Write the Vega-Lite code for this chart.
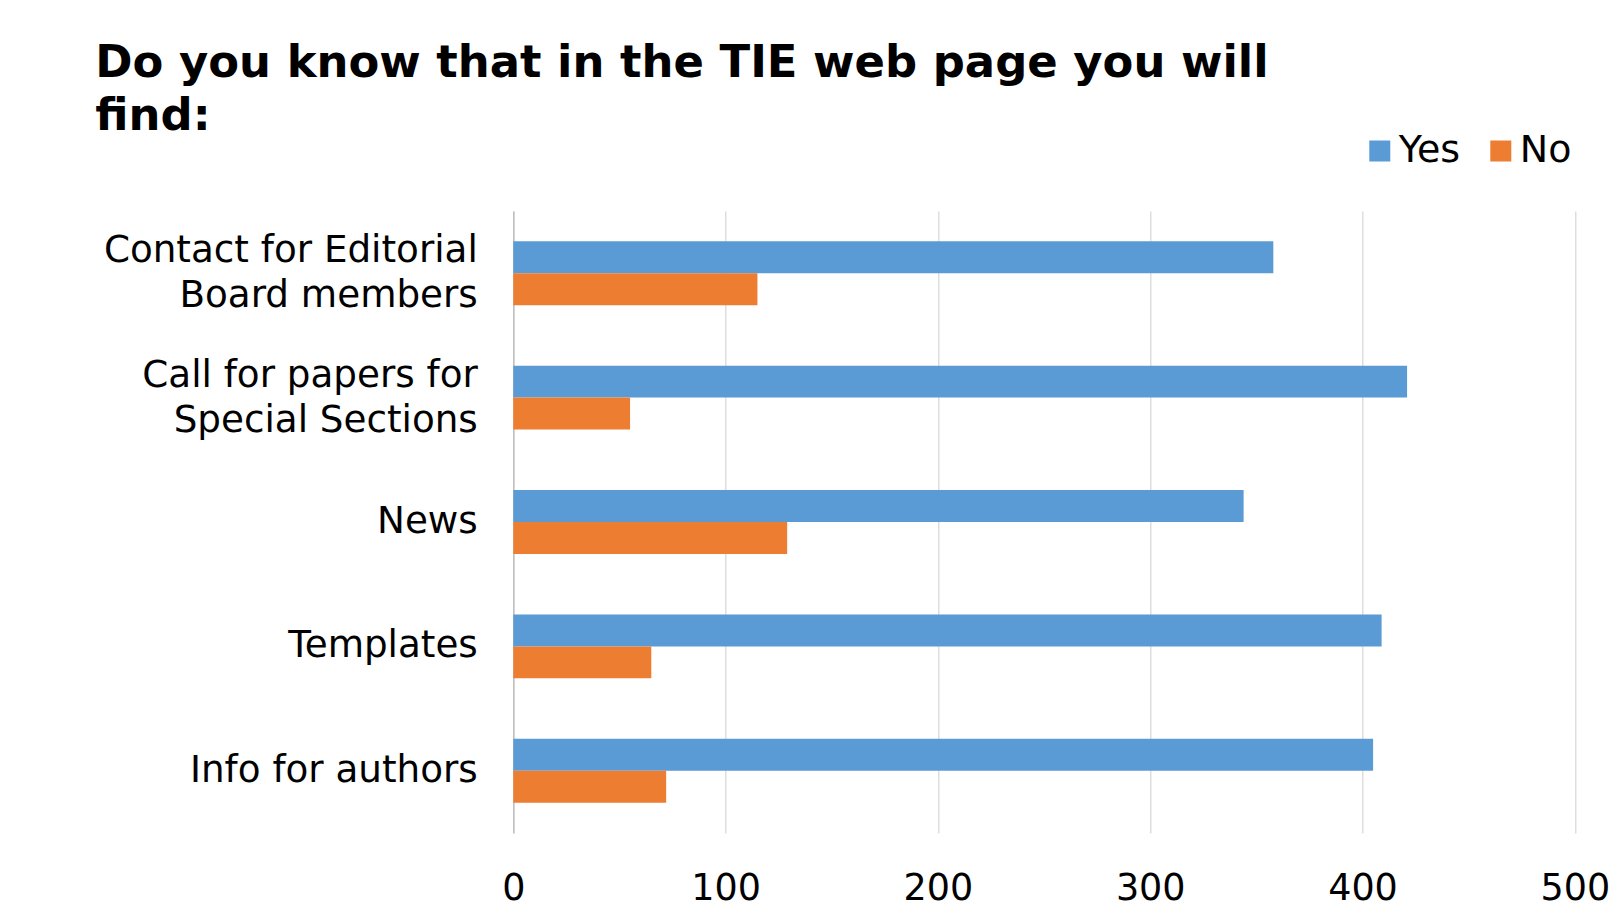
{
  "$schema": "https://vega.github.io/schema/vega-lite/v6.json",
  "autosize": "none",
  "width": 1061.5,
  "height": 622,
  "padding": {"left": 513.3, "top": 211, "right": 42, "bottom": 75},
  "background": "white",
  "title": {
    "text": ["Do you know that in the TIE web page you will", "find:"],
    "anchor": "start",
    "frame": "group",
    "font": "DejaVu Sans",
    "fontWeight": "bold",
    "fontSize": 44.9,
    "lineHeight": 53,
    "color": "#000000",
    "baseline": "top",
    "dx": -418,
    "dy": 88,
    "offset": 80
  },
  "data": {
    "values": [
      {"item": "Contact for Editorial|Board members", "series": "Yes", "count": 358},
      {"item": "Contact for Editorial|Board members", "series": "No", "count": 115},
      {"item": "Call for papers for|Special Sections", "series": "Yes", "count": 421},
      {"item": "Call for papers for|Special Sections", "series": "No", "count": 55},
      {"item": "News", "series": "Yes", "count": 344},
      {"item": "News", "series": "No", "count": 129},
      {"item": "Templates", "series": "Yes", "count": 409},
      {"item": "Templates", "series": "No", "count": 65},
      {"item": "Info for authors", "series": "Yes", "count": 405},
      {"item": "Info for authors", "series": "No", "count": 72}
    ]
  },
  "mark": {"type": "bar"},
  "encoding": {
    "y": {
      "field": "item",
      "type": "nominal",
      "sort": null,
      "scale": {"paddingInner": 0.486, "paddingOuter": 0.243},
      "axis": {
        "title": null,
        "labelExpr": "split(datum.label, '|')",
        "labelFont": "DejaVu Sans",
        "labelFontSize": 37.3,
        "labelColor": "#000000",
        "labelLineHeight": 45,
        "labelPadding": 36,
        "labelOffset": {"condition": {"test": "indexof(datum.value, '|') >= 0", "value": -22}, "value": 0},
        "ticks": false,
        "domain": true,
        "domainColor": "#BFBFBF",
        "domainWidth": 1.5,
        "labelLimit": 600
      }
    },
    "yOffset": {"field": "series", "type": "nominal", "sort": ["Yes", "No"]},
    "x": {
      "field": "count",
      "type": "quantitative",
      "scale": {"domain": [0, 500], "nice": false},
      "axis": {
        "title": null,
        "values": [0, 100, 200, 300, 400, 500],
        "labelFont": "DejaVu Sans",
        "labelFontSize": 36.5,
        "labelColor": "#000000",
        "labelPadding": 38,
        "labelBaseline": "top",
        "labelFlush": false,
        "labelOverlap": false,
        "ticks": false,
        "domain": false,
        "grid": true,
        "gridColor": "#D9D9D9",
        "gridWidth": 1.3
      }
    },
    "color": {
      "field": "series",
      "type": "nominal",
      "sort": ["Yes", "No"],
      "scale": {"domain": ["Yes", "No"], "range": ["#5B9BD5", "#ED7D31"]},
      "legend": {
        "title": null,
        "orient": "none",
        "direction": "horizontal",
        "legendX": 847.5,
        "legendY": -79,
        "symbolType": "square",
        "symbolSize": 441,
        "symbolStrokeWidth": 0,
        "labelFont": "DejaVu Sans",
        "labelFontSize": 38,
        "labelColor": "#000000",
        "labelOffset": 0,
        "columnPadding": 21
      }
    }
  },
  "config": {
    "view": {"stroke": null}
  }
}
